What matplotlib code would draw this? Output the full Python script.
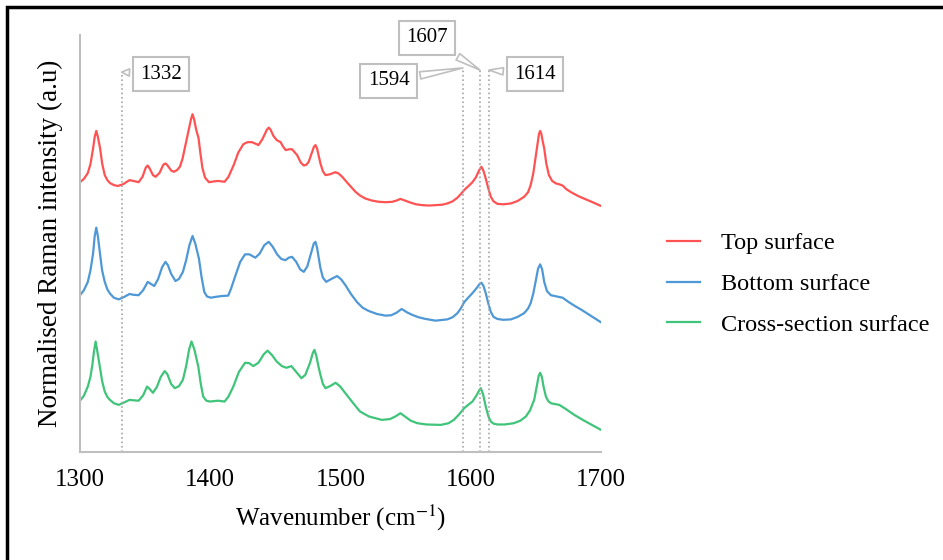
import matplotlib
matplotlib.use("Agg")
import matplotlib.pyplot as plt
from matplotlib.patches import Rectangle

plt.rcParams['font.family'] = ['Liberation Serif', 'DejaVu Serif']
plt.rcParams['mathtext.fontset'] = 'stix'

# spectra: (wavenumber, normalised intensity, stacked offset)
top_surface = [
    (1300, 64.7), (1303, 65.5), (1306, 66.9), (1308, 69.0), (1310, 72.7), (1311.3, 75.6),
    (1312.5, 77.0), (1313.7, 75.6), (1315.5, 72.7), (1317, 69.2), (1319, 66.4), (1321, 65.2),
    (1323, 64.5), (1326, 64.0), (1329, 63.8), (1333, 64.2), (1338, 65.2), (1341, 65.0),
    (1345, 64.7), (1348, 66.0), (1350.5, 68.2), (1352, 68.7), (1353.5, 68.0), (1356, 66.4),
    (1358, 66.0), (1361, 66.9), (1364, 68.9), (1365.6, 69.2), (1367, 68.8), (1370, 67.5),
    (1372, 67.2), (1374.5, 67.6), (1376.7, 68.4), (1378.7, 70.3), (1380.5, 72.9), (1383, 76.5),
    (1385.2, 79.8), (1386.4, 81.0), (1387.6, 79.8), (1389.2, 77.3), (1391, 75.3), (1392.5, 71.5),
    (1394, 68.1), (1396, 65.8), (1399, 64.7), (1403, 64.9), (1406, 65.0), (1411, 64.8),
    (1414, 66.0), (1418, 68.8), (1421.5, 71.8), (1425.4, 73.8), (1428.5, 74.3), (1432, 74.3),
    (1435, 73.9), (1437, 73.6), (1440, 75.0), (1443.5, 77.3), (1444.9, 77.8), (1446.3, 77.3),
    (1448.5, 75.8), (1451, 74.8), (1454, 74.3), (1456, 73.2), (1458, 72.4), (1460.5, 72.6),
    (1462.8, 72.6), (1466.7, 71.2), (1469.5, 69.4), (1471.8, 68.7), (1473.8, 68.9), (1475.6, 69.6),
    (1478, 71.8), (1479.6, 73.2), (1480.8, 73.6), (1482, 72.8), (1483.3, 71.0), (1484.6, 69.2),
    (1486.5, 67.3), (1488.5, 66.4), (1492, 66.6), (1496, 67.1), (1498.5, 66.8), (1501.3, 66.0),
    (1506, 64.3), (1511.5, 62.4), (1515, 61.5), (1519, 60.8), (1524, 60.3), (1529.5, 60.0),
    (1535, 59.9), (1539.7, 60.0), (1543, 60.3), (1546, 60.7), (1549.5, 60.3), (1553.8, 59.8),
    (1558, 59.4), (1562.8, 59.2), (1568, 59.1), (1573, 59.2), (1578, 59.3), (1582, 59.6),
    (1586, 60.1), (1589.8, 61.0), (1592.5, 61.9), (1594.9, 62.8), (1598, 63.7), (1601.3, 64.7),
    (1604, 65.9), (1606.5, 67.6), (1608.2, 68.4), (1609.8, 67.4), (1611.5, 65.6), (1613.5, 63.2),
    (1615.4, 61.2), (1617.5, 60.1), (1620.5, 59.5), (1625, 59.4), (1630.8, 59.6), (1636, 60.2),
    (1641, 61.2), (1644, 62.3), (1646, 64.0), (1648, 66.8), (1650, 71.2), (1651.5, 74.6),
    (1652.4, 76.3), (1653.3, 77.0), (1654.2, 76.3), (1655.2, 74.6), (1656.4, 72.8), (1658, 69.2),
    (1660, 66.4), (1662.5, 65.0), (1665.4, 64.4), (1668, 64.2), (1670.5, 63.9), (1673.5, 63.0),
    (1677, 62.3), (1683, 61.3), (1689.8, 60.4), (1695, 59.7), (1700, 59.0)]

bottom_surface = [
    (1300, 37.6), (1303, 38.8), (1306, 40.8), (1308, 43.5), (1310, 47.5), (1311.3, 51.8),
    (1312.5, 53.8), (1313.7, 51.8), (1315.5, 47.2), (1317, 43.5), (1319, 40.8), (1321, 39.0),
    (1323, 38.0), (1326, 37.0), (1329.7, 36.6), (1334, 37.2), (1338, 37.9), (1341, 37.7),
    (1345, 37.6), (1348.5, 38.8), (1352, 40.8), (1354.5, 40.3), (1357, 39.8), (1360, 41.5),
    (1363, 44.3), (1365.6, 45.6), (1367.5, 44.8), (1370, 42.7), (1373.3, 41.0), (1376, 41.5),
    (1379, 43.2), (1381.5, 46.0), (1384, 49.6), (1386.4, 51.8), (1388.5, 50.0), (1391.3, 46.4),
    (1393.3, 42.0), (1395.4, 38.4), (1397.5, 37.3), (1400.5, 37.0), (1404, 37.2), (1408.7, 37.4),
    (1413.8, 37.5), (1416, 39.2), (1419, 42.0), (1423, 45.6), (1426.7, 47.4), (1430, 47.4),
    (1434.6, 46.6), (1438, 47.6), (1441.5, 49.6), (1444.9, 50.4), (1448, 49.2), (1451.3, 47.4),
    (1454.5, 46.3), (1457.7, 46.0), (1460.3, 46.6), (1462.8, 46.8), (1466, 45.6), (1469, 43.8),
    (1471.8, 43.2), (1474.5, 44.5), (1477.5, 47.8), (1479.5, 50.0), (1480.8, 50.4), (1482, 49.0),
    (1483.3, 46.5), (1484.6, 44.1), (1486.5, 41.8), (1489, 40.8), (1493, 41.5), (1497.4, 42.2),
    (1500.5, 41.4), (1503.8, 40.0), (1508, 37.9), (1512.8, 35.9), (1517, 34.6), (1521.8, 33.8),
    (1528, 33.1), (1534.6, 32.7), (1539, 32.8), (1543, 33.4), (1547, 34.3), (1551, 33.5),
    (1555, 32.9), (1560, 32.3), (1565.4, 31.9), (1573, 31.5), (1582, 31.8), (1586, 32.3),
    (1589.8, 33.3), (1592.5, 34.5), (1594.9, 35.9), (1598, 37.0), (1601.3, 38.1), (1604.5, 39.3),
    (1606.8, 40.3), (1608.2, 40.6), (1609.8, 39.8), (1611.5, 38.1), (1613.5, 35.6), (1615.4, 33.6),
    (1617.5, 32.4), (1620.5, 31.9), (1625, 31.7), (1630.8, 31.8), (1636, 32.4), (1641, 33.3),
    (1644, 34.4), (1646, 35.7), (1648, 38.0), (1650, 41.2), (1651.7, 44.0), (1653.3, 45.0),
    (1654.8, 43.8), (1656.4, 40.8), (1658.5, 38.6), (1661.5, 37.6), (1666, 37.3), (1670.5, 37.0),
    (1675, 36.0), (1679.5, 35.1), (1685, 34.1), (1690, 33.1), (1695, 32.1), (1700, 31.1)]

cross_section = [
    (1300, 12.3), (1303, 13.5), (1306, 15.7), (1308, 18.0), (1309.5, 20.9), (1310.8, 24.3),
    (1312, 26.5), (1313.2, 24.3), (1315, 20.9), (1317, 17.0), (1319, 14.5), (1321, 13.2),
    (1323, 12.5), (1326, 11.7), (1329.7, 11.3), (1334, 11.9), (1338, 12.5), (1341, 12.4),
    (1345, 12.3), (1348.5, 13.6), (1351.5, 15.7), (1353.8, 15.0), (1356, 14.2), (1359, 15.6),
    (1362, 18.0), (1365, 19.4), (1367, 18.7), (1370, 16.3), (1372.8, 15.3), (1376, 15.8),
    (1379, 17.3), (1381.5, 20.6), (1383.8, 24.6), (1385.6, 26.5), (1387.8, 24.6), (1390.8, 20.5),
    (1392.8, 16.2), (1394.6, 13.3), (1397, 12.3), (1399.7, 12.1), (1406, 12.3), (1411, 12.1),
    (1414, 13.3), (1417.7, 15.7), (1422, 19.2), (1426.7, 21.4), (1430, 21.3), (1433, 20.6),
    (1437, 21.4), (1441, 23.4), (1444, 24.3), (1447.5, 23.2), (1451, 21.7), (1455, 20.6),
    (1458.5, 20.2), (1462.3, 20.6), (1466, 19.2), (1470, 17.7), (1473, 18.5), (1476.5, 21.3),
    (1478.8, 23.8), (1480, 24.5), (1481.5, 23.0), (1483, 20.6), (1484.6, 18.5), (1486.5, 16.3),
    (1488.5, 15.3), (1492, 15.8), (1496.2, 16.6), (1499.5, 15.8), (1503, 14.4), (1509, 12.0),
    (1515, 9.7), (1522, 8.5), (1531.8, 7.7), (1538, 7.9), (1542, 8.5), (1546, 9.3),
    (1550, 8.4), (1554, 7.5), (1559, 6.9), (1566, 6.6), (1577, 6.5), (1583, 6.9),
    (1587, 7.7), (1591, 9.0), (1594.9, 10.5), (1598, 11.3), (1601.3, 12.1), (1604.5, 13.6),
    (1606.5, 14.8), (1607.7, 15.3), (1609.5, 13.8), (1611.5, 10.9), (1613.5, 8.6), (1615.4, 7.3),
    (1617.5, 6.8), (1620.5, 6.6), (1626, 6.6), (1633, 6.9), (1638, 7.5), (1642.3, 8.5),
    (1645.5, 10.0), (1648.7, 12.5), (1650.7, 15.8), (1652.2, 18.3), (1653.3, 19.0), (1654.6, 18.0),
    (1656, 15.5), (1657.7, 13.3), (1659.5, 12.2), (1661.5, 11.7), (1664.5, 11.5), (1668, 11.3),
    (1673, 10.3), (1679.5, 8.9), (1686, 7.7), (1693, 6.5), (1700, 5.3)]

series_names = ['Top surface', 'Bottom surface', 'Cross-section surface']
series_colors = ['#ff5353', '#4f98d6', '#3fc47a']

# marked bands: position, top of the marker line, label position
marks = [1332, 1594, 1607, 1614]
mark_top = [91.1, 92.1, 91.6, 91.6]
label_xy = [(1362.3, 90.6), (1536.9, 89.0), (1566.2, 99.3), (1649.2, 90.6)]

fig = plt.figure(figsize=(9.43, 5.6), dpi=100)
ax = fig.add_axes([80/943, 1-452/560, 521/943, 417/560])

for data, name, col in zip([top_surface, bottom_surface, cross_section], series_names, series_colors):
    wn, inten = zip(*data)
    ax.plot(wn, inten, color=col, lw=1.6, label=name, solid_joinstyle='round')

ax.vlines(marks, 0, mark_top, colors='#a6a6a6', linestyles=':', lw=1.2)
for m, top, (tx, ty) in zip(marks, mark_top, label_xy):
    ax.annotate(str(m), xy=(m, top), xytext=(tx, ty), fontsize=15,
                ha='center', va='center', annotation_clip=False,
                bbox=dict(boxstyle='square,pad=0.35', fc='white', ec='#bfbfbf', lw=1.5),
                arrowprops=dict(arrowstyle='wedge,tail_width=0.35,shrink_factor=0.5',
                                fc='white', ec='#bfbfbf', lw=1.2, shrinkB=0))

ax.set_xlim(1300, 1700)
ax.set_ylim(0, 100)
ax.set_xticks([1300, 1400, 1500, 1600, 1700])
ax.tick_params(axis='x', length=0, pad=12, labelsize=18)
ax.set_yticks([])
for s in ['top', 'right']:
    ax.spines[s].set_visible(False)
for s in ['left', 'bottom']:
    ax.spines[s].set_color('#bfbfbf')
    ax.spines[s].set_linewidth(1.5)

ax.set_xlabel('Wavenumber (cm$^{-1}$)', fontsize=18, labelpad=9)
ax.set_ylabel('Normalised Raman intensity (a.u)', fontsize=19.5, labelpad=12)

ax.legend(loc='center left', bbox_to_anchor=(667/943, 1-284/560),
          bbox_transform=fig.transFigure, frameon=False, borderpad=0, borderaxespad=0,
          fontsize=17.5, handlelength=1.36, handletextpad=0.86, labelspacing=0.77)

fig.patches.append(Rectangle((7/943, -0.1), 1.2, 1-7/560+0.1, transform=fig.transFigure,
                             fill=False, ec='black', lw=2.5))

plt.savefig('out.png', dpi=100)
plt.close()
